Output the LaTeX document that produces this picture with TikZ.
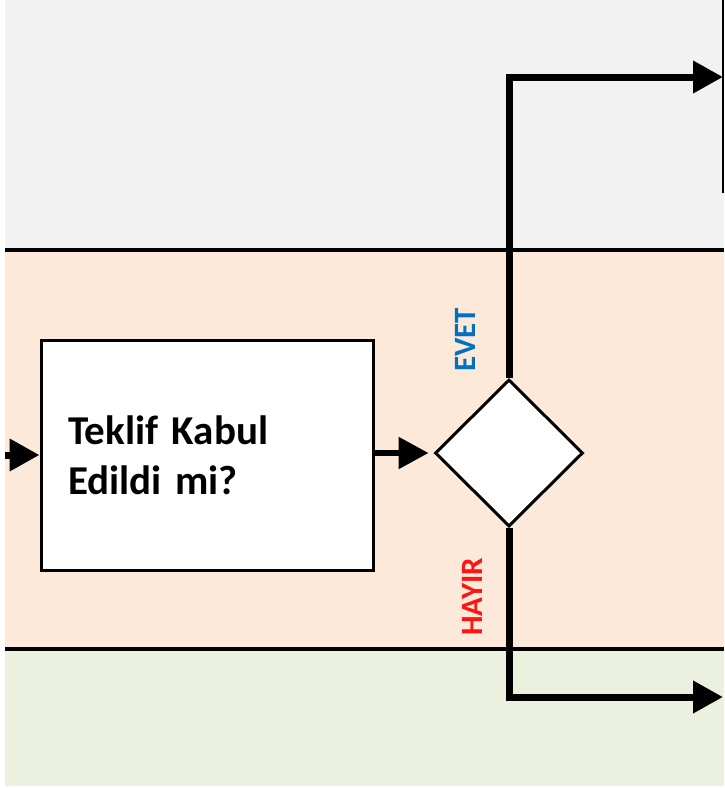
\documentclass[tikz,border=0pt]{standalone}
\usepackage{fontspec}
\setmainfont{Carlito}
\usetikzlibrary{arrows.meta,shapes.geometric}
\definecolor{lanegrey}{RGB}{242,242,242}
\definecolor{lanepeach}{RGB}{253,233,217}
\definecolor{lanegreen}{RGB}{235,241,222}
\definecolor{evetblue}{RGB}{0,112,192}
\definecolor{hayirred}{RGB}{255,20,20}
\tikzset{
  flow/.style={line width=7pt,-{Triangle[length=30pt,width=31pt]}},
  lane/.style={line width=3.5pt},
  branch/.style={rotate=90,inner sep=0pt,font=\bfseries\fontsize{31}{31}\selectfont},
}
\begin{document}
\begin{tikzpicture}[x=1pt,y=-1pt]
  \useasboundingbox (0,0) rectangle (724,788);
  % lanes
  \fill [lanegrey] (5,0) rectangle (724,250);
  \fill [lanepeach] (5,250) rectangle (724,649);
  \fill [lanegreen] (5,649) rectangle (724,786);
  \draw [lane] (5,250) -- (724,250);
  \draw [lane] (5,649) -- (724,649);
  \draw [line width=2pt] (722.5,0) -- (722.5,193);
  % steps
  \node [draw,line width=3pt,fill=white,minimum width=332pt,minimum height=230pt,
         text width=278pt,inner xsep=27pt,align=left,
         font=\bfseries\fontsize{41}{50}\selectfont] (offer) at (207,455) {Teklif Kabul\\Edildi mi?};
  \node [draw,diamond,line width=3pt,fill=white,minimum width=148pt,
         minimum height=147pt,inner sep=0pt] (accepted) at (509,453) {};
  \node [branch,text=evetblue] (yes) at (465,340) {EVET};
  \node [branch,text=hayirred] (no) at (472,597) {HAYIR};
  % flows
  \coordinate (start) at (5,455);
  \coordinate (yesend) at (723,77);
  \coordinate (noend) at (723,697);
  \draw [flow] (start) -- (offer.west);
  \draw [flow,line width=5.5pt] (offer.east |- accepted.west) -- ([xshift=-5pt]accepted.west);
  \draw [flow] (accepted.north) |- (yesend);
  \draw [flow] (accepted.south) |- (noend);
\end{tikzpicture}
\end{document}
